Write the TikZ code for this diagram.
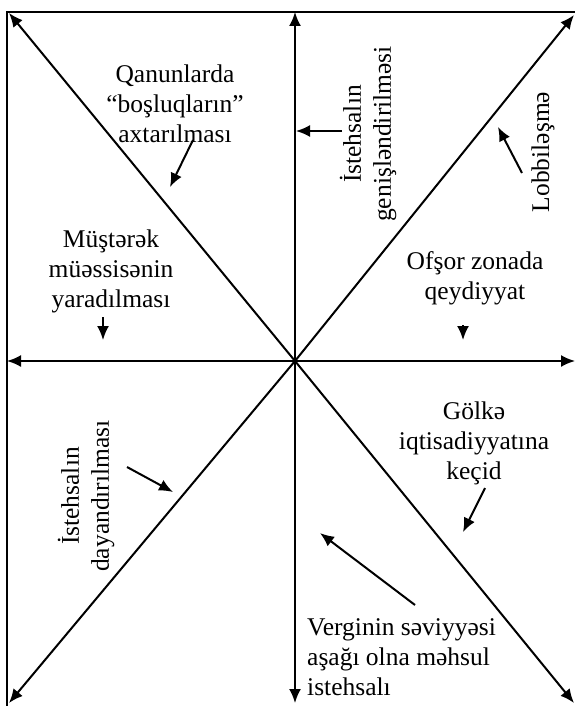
\documentclass[tikz,border=0pt]{standalone}
\usepackage{fontspec}
\setmainfont{Liberation Serif}
\usetikzlibrary{arrows.meta}
\begin{document}
\begin{tikzpicture}[x=1pt,y=-1pt,
  ln/.style={line width=2pt},
  dbl/.style={ln,{Latex[length=14pt,width=12pt]}-{Latex[length=14pt,width=12pt]}},
  one/.style={ln,-{Latex[length=14pt,width=12pt]}},
  lbl/.style={font=\fontsize{25.5}{30}\selectfont, align=center, inner sep=0pt}
]
\useasboundingbox (0,0) rectangle (575,706);
% frame
\coordinate (FBL) at (7,706);
\coordinate (FTL) at (7,12);
\coordinate (FTR) at (575,12);
\draw[ln] (FBL) -- (FTL) -- (FTR);
% axes
\coordinate (O) at (295,361);
\coordinate (T) at (295,12);
\coordinate (B) at (295,703);
\coordinate (L) at (7,361);
\coordinate (R) at (575,361);
\coordinate (TL) at (9,13);
\coordinate (TR) at (574,15);
\coordinate (BL) at (9,703);
\coordinate (BR) at (574,703);
\draw[dbl] (T) -- (B);
\draw[dbl] (L) -- (R);
\draw[one] (O) -- (TL);
\draw[one] (O) -- (TR);
\draw[one] (O) -- (BL);
\draw[one] (O) -- (BR);
% labels
\node[lbl] (q) at (175,104) {Qanunlarda\\“boşluqların”\\axtarılması};
\node[lbl] (m) at (111,271) {Müştərək\\müəssisənin\\yaradılması};
\node[lbl] (o) at (475,278) {Ofşor zonada\\qeydiyyat};
\node[lbl] (g) at (474,443) {Gölkə\\iqtisadiyyatına\\keçid};
\node[lbl, align=left, anchor=west] (v) at (307,657) {Verginin səviyyəsi\\aşağı olna məhsul\\istehsalı};
\node[lbl, rotate=90] (ig) at (368,134) {İstehsalın\\genişləndirilməsi};
\node[lbl, rotate=90] (lb) at (543,152) {Lobbiləşmə};
\node[lbl, rotate=90] (id) at (86,496) {İstehsalın\\dayandırılması};
% small arrows
\coordinate (a1s) at (193,140); \coordinate (a1e) at (170,187);
\coordinate (a2s) at (342,131); \coordinate (a2e) at (296,131);
\coordinate (a3s) at (522,173); \coordinate (a3e) at (498,127);
\coordinate (a4s) at (103,317); \coordinate (a4e) at (103,340);
\coordinate (a5s) at (463,325); \coordinate (a5e) at (463,340);
\coordinate (a6s) at (127,467); \coordinate (a6e) at (173,492);
\coordinate (a7s) at (485,488); \coordinate (a7e) at (463,532);
\coordinate (a8s) at (415,605); \coordinate (a8e) at (320,533);
\foreach \i in {1,...,8} \draw[one] (a\i s) -- (a\i e);
\end{tikzpicture}
\end{document}
